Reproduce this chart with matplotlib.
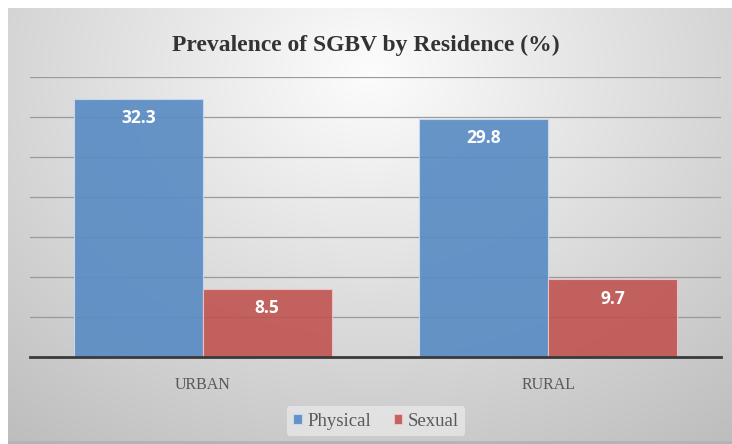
import numpy as np
import matplotlib
matplotlib.use("Agg")
import matplotlib.pyplot as plt
from matplotlib.patches import Rectangle

categories = ["URBAN", "RURAL"]
series_names = ["Physical", "Sexual"]
physical = [32.3, 29.8]
sexual = [8.5, 9.7]
title = "Prevalence of SGBV by Residence (%)"

colors = ["#5b8cc4", "#c0504d"]

W, H, DPI = 732, 444, 100
fig = plt.figure(figsize=(W / DPI, H / DPI), dpi=DPI)
fig.patch.set_facecolor("white")

# gradient background panel
bg = fig.add_axes([8 / W, 0, 1 - 8 / W, 1 - 8 / H], zorder=0)
ny, nx = 220, 360
yy, xx = np.mgrid[0:1:ny * 1j, 0:1:nx * 1j]
r = np.sqrt(((xx - 0.5) / 0.75) ** 2 + ((yy - 0.15) / 1.0) ** 2)
val = 0.99 - 0.23 * np.clip(r, 0, 1.2)
img = np.dstack([val, val, val])
bg.imshow(img, aspect="auto", extent=[0, 1, 1, 0], interpolation="bilinear")
bg.set_xlim(0, 1)
bg.set_ylim(1, 0)
bg.axis("off")
bg.add_patch(Rectangle((0, 0), 1, 0.006, transform=bg.transAxes, color="#b4b4b4", lw=0))

ax = fig.add_axes([30 / W, 1 - 357 / H, 691 / W, 280 / H], zorder=1)
ax.patch.set_alpha(0)

x = np.arange(len(categories))
bw = 0.373
b1 = ax.bar(x - bw / 2, physical, bw, color=colors[0], alpha=0.92,
            edgecolor="#c9daf0", linewidth=0.8, label=series_names[0], zorder=3)
b2 = ax.bar(x + bw / 2, sexual, bw, color=colors[1], alpha=0.88,
            edgecolor="#f0c8c8", linewidth=0.8, label=series_names[1], zorder=3)

for bars, vals in ((b1, physical), (b2, sexual)):
    for b, v in zip(bars, vals):
        ax.annotate(f"{v}", (b.get_x() + b.get_width() / 2, v), xytext=(0, -14),
                    textcoords="offset points", ha="center", va="center",
                    color="white", fontsize=12.5, fontweight="bold",
                    family="Open Sans", zorder=5)

ax.set_xlim(-0.5, 1.5)
ax.set_ylim(0, 35)
ax.set_yticks(np.arange(5, 36, 5))
ax.yaxis.grid(True, color="#9a9a9a", linewidth=0.9, zorder=1)
ax.set_axisbelow(True)
ax.tick_params(axis="y", left=False, labelleft=False)
ax.tick_params(axis="x", bottom=False, pad=11)
ax.set_xticks(x)
ax.set_xticklabels(categories, family="Liberation Serif", fontsize=11.5, color="#595959")
for s in ("top", "right", "left"):
    ax.spines[s].set_visible(False)
ax.spines["bottom"].set_color("#3a3a3a")
ax.spines["bottom"].set_linewidth(2)
ax.spines["bottom"].set_zorder(4)

fig.text(366 / W, 1 - 45 / H, title, ha="center", va="center",
         family="Liberation Serif", fontweight="bold", fontsize=17, color="#333333")

leg = fig.legend(handles=[b1, b2], labels=series_names, loc="center",
                 bbox_to_anchor=(376 / W, 1 - 421 / H), ncol=2, frameon=True,
                 prop={"family": "Liberation Serif", "size": 13.5},
                 handlelength=0.45, handleheight=0.45, handletextpad=0.3,
                 columnspacing=1.2, borderpad=0.35)
leg.get_frame().set_facecolor("#f0f0f0")
leg.get_frame().set_alpha(0.6)
leg.get_frame().set_edgecolor("none")
for t in leg.get_texts():
    t.set_color("#595959")

fig.savefig("out.png", dpi=DPI)
